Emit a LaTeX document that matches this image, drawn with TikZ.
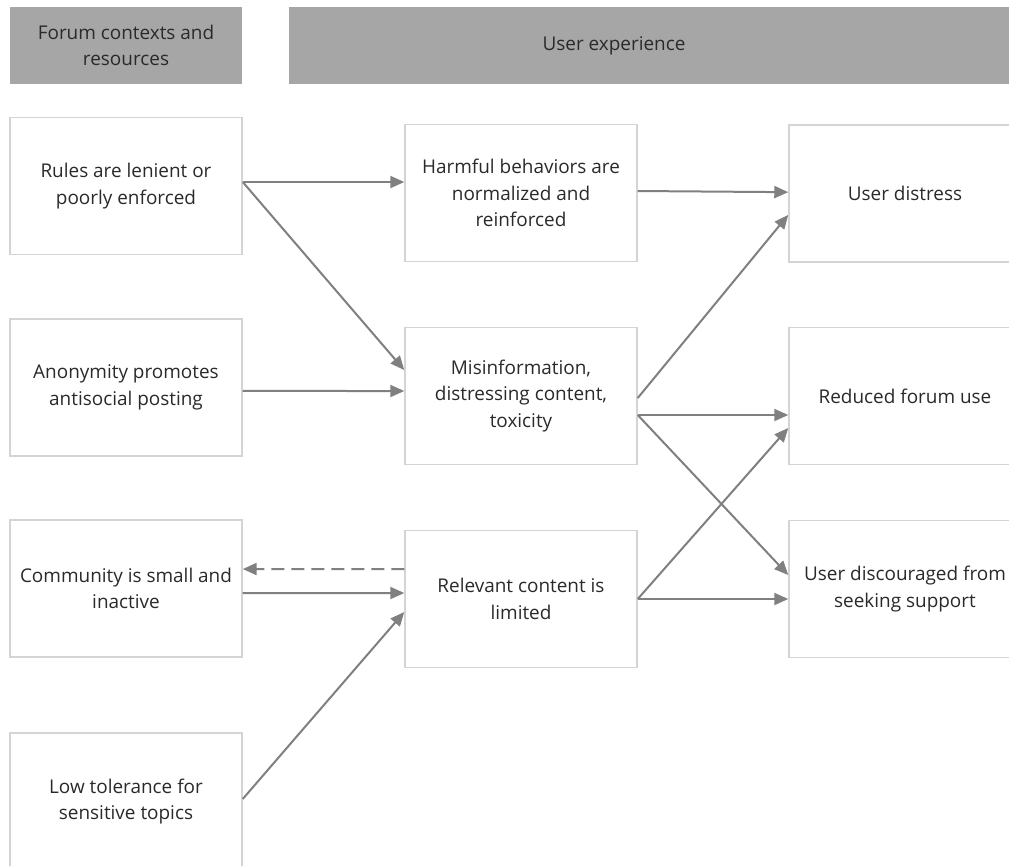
\documentclass[tikz,border=0pt]{standalone}
\usepackage{fontspec}
\setmainfont{Open Sans}
\usetikzlibrary{arrows.meta}
\definecolor{boxline}{HTML}{D4D4D4}
\definecolor{arrowc}{HTML}{808080}
\definecolor{hdrfill}{HTML}{A6A6A6}
\definecolor{txt}{HTML}{2A2A2A}
\begin{document}
\begin{tikzpicture}[x=0.75pt,y=-0.75pt,
  txtfont/.style={font=\fontsize{14.2}{19.8}\selectfont},
  box/.style={draw=boxline,line width=1.1pt,fill=white,minimum width=174pt,
    minimum height=102.75pt,align=center,text=txt,txtfont,inner sep=0pt},
  hdr/.style={fill=hdrfill,draw=none,text=txt,align=center,txtfont,inner sep=0pt,
    minimum height=57.75pt},
  arr/.style={draw=arrowc,line width=1.5pt,-{Triangle[length=10.5pt,width=9pt]}},
  dasharr/.style={arr,dash pattern=on 9.75pt off 5.25pt},
]
\useasboundingbox (0,0) rectangle (1009,865);
\fill[white] (0,0) rectangle (1009,865);

% headers
\node[hdr,minimum width=174pt] (hL) at (126,45.5) {Forum contexts and\\resources};
\node[hdr,minimum width=555.75pt] (hR) at (659.5,45.5) {};
\node[text=txt,txtfont] (hRt) at (614,45.5) {User experience};

% left column
\node[box] (rules) at (126,186) {Rules are lenient or\\poorly enforced};
\node[box] (anon) at (126,387.5) {Anonymity promotes\\antisocial posting};
\node[box] (comm) at (126,588.5) {Community is small and\\inactive};
\node[box] (low) at (126,801.5) {Low tolerance for\\sensitive topics};

% middle column
\node[box] (harm) at (521,193) {Harmful behaviors are\\normalized and\\reinforced};
\node[box] (mis) at (521,396) {Misinformation,\\distressing content,\\toxicity};
\node[box] (rel) at (521,599) {Relevant content is\\limited};

% right column
\node[box] (dis) at (905,193.5) {User distress};
\node[box] (red) at (905,396) {Reduced forum use};
\node[box] (disc) at (905,589) {User discouraged from\\seeking support};

% connectors
\draw[arr] ([yshift=3pt]rules.east) -- ([yshift=8.25pt]harm.west);
\draw[arr] ([yshift=3pt]rules.east) -- ([yshift=19.5pt]mis.west);
\draw[arr] ([yshift=-2.6pt]anon.east) -- ([yshift=3.75pt]mis.west);
\draw[arr] ([yshift=1.5pt]harm.east) -- ([yshift=1pt]dis.west);
\draw[arr] ([yshift=-1.5pt]mis.east) -- ([yshift=-16pt]dis.west);
\draw[arr] ([yshift=-14.25pt]mis.east) -- ([yshift=-14.25pt]red.west);
\draw[arr] ([yshift=-14.25pt]mis.east) -- ([yshift=10.5pt]disc.west);
\draw[arr] (rel.east) -- ([yshift=-24pt]red.west);
\draw[arr] (rel.east) -- ([yshift=-7.5pt]disc.west);
\draw[dasharr] ([yshift=22.5pt]rel.west) -- ([yshift=14.6pt]comm.east);
\draw[arr] ([yshift=-3.4pt]comm.east) -- ([yshift=4.5pt]rel.west);
\draw[arr] ([yshift=1.9pt]low.east) -- ([yshift=-9.75pt]rel.west);
\end{tikzpicture}
\end{document}
